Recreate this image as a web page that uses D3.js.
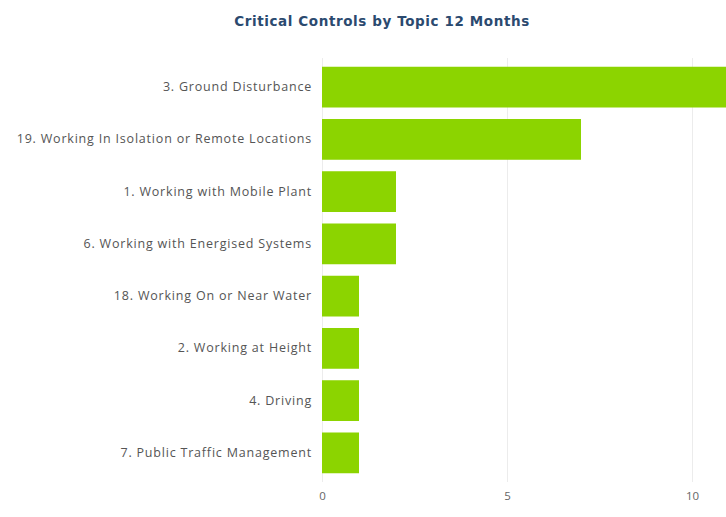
<!DOCTYPE html>
<html><head><meta charset="utf-8">
<script src="https://cdn.jsdelivr.net/npm/d3@7"></script>
<style>body{margin:0;background:#fff}svg{display:block}</style>
</head><body>
<svg id="c" width="726" height="517"></svg>
<script>
const categories = ["3. Ground Disturbance","19. Working In Isolation or Remote Locations","1. Working with Mobile Plant","6. Working with Energised Systems","18. Working On or Near Water","2. Working at Height","4. Driving","7. Public Traffic Management"];
const values = [11,7,2,2,1,1,1,1];
const ticks = [0,5,10];
const title = "Critical Controls by Topic 12 Months";

const svg = d3.select("#c");
const x = d3.scaleLinear().domain([0,10]).range([322,692]);
const y = d3.scaleBand().domain(categories).range([61,479]).paddingInner(0.22).paddingOuter(0.11);

svg.append("text").attr("x",382).attr("y",26).attr("text-anchor","middle")
  .attr("font-family","Verdana, DejaVu Sans, sans-serif").attr("font-weight","bold").attr("font-size",13.5)
  .attr("letter-spacing",0.6).attr("fill","#2b4a6f").text(title);

const gx = svg.append("g").attr("transform","translate(0,482)")
  .call(d3.axisBottom(x).tickValues(ticks).tickSize(-424).tickSizeOuter(0).tickPadding(10));
gx.select(".domain").remove();
gx.selectAll(".tick line").attr("stroke","#ececec");
gx.selectAll(".tick text").attr("fill","#666").attr("font-family","Open Sans, sans-serif").attr("font-size",11.5);

svg.append("g").selectAll("rect").data(categories).join("rect")
  .attr("x",x(0)).attr("y",d=>y(d)).attr("height",y.bandwidth())
  .attr("width",(d,i)=>x(values[i])-x(0)).attr("fill","#8cd400");

const gy = svg.append("g").attr("transform","translate(322,0)")
  .call(d3.axisLeft(y).tickSize(0).tickPadding(10));
gy.select(".domain").remove();
gy.selectAll(".tick text").attr("fill","#555").attr("font-family","Open Sans, sans-serif").attr("font-size",12.5)
  .attr("letter-spacing",0.8);
</script>
</body></html>
